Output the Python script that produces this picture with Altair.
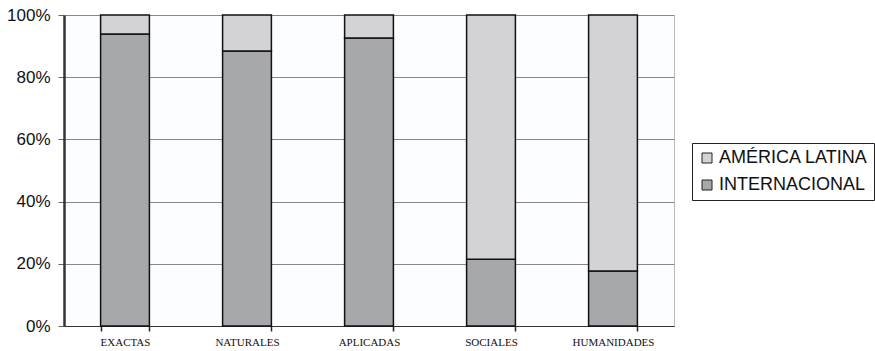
import altair as alt
import pandas as pd

# Share of publications by area (percent)
areas = ["EXACTAS", "NATURALES", "APLICADAS", "SOCIALES", "HUMANIDADES"]
internacional = [93.9, 88.4, 92.6, 21.5, 17.7]
america_latina = [6.1, 11.6, 7.4, 78.5, 82.3]

series = ["AMÉRICA LATINA", "INTERNACIONAL"]
colors = ["#D3D3D5", "#A7A8AC"]

rows = []
for a, i, l in zip(areas, internacional, america_latina):
    rows.append({"area": a, "serie": "INTERNACIONAL", "valor": i / 100, "orden": 0})
    rows.append({"area": a, "serie": "AMÉRICA LATINA", "valor": l / 100, "orden": 1})
df = pd.DataFrame(rows)

chart = (
    alt.Chart(df)
    .mark_bar(stroke="#111111", strokeWidth=1.5)
    .encode(
        x=alt.X(
            "area:N",
            sort=areas,
            title=None,
            scale=alt.Scale(paddingInner=0.6, paddingOuter=0.3),
            axis=alt.Axis(
                labelAngle=0,
                labelFont="Liberation Serif",
                labelFontSize=11,
                labelColor="#111111",
                labelPadding=5,
                tickBand="extent",
                tickColor="#222222",
                tickSize=5,
                tickWidth=1.5,
                domain=True,
                domainColor="#333333",
                domainWidth=1,
                grid=False,
            ),
        ),
        y=alt.Y(
            "valor:Q",
            stack="zero",
            title=None,
            scale=alt.Scale(domain=[0, 1], nice=False),
            axis=alt.Axis(
                format="%",
                values=[0, 0.2, 0.4, 0.6, 0.8, 1.0],
                labelFont="Liberation Sans",
                labelFontSize=17,
                labelColor="#111111",
                labelPadding=8,
                tickColor="#666666",
                tickSize=6,
                domainColor="#333333",
                domainWidth=2.5,
                gridColor="#888888",
                gridWidth=1,
            ),
        ),
        color=alt.Color(
            "serie:N",
            scale=alt.Scale(domain=series, range=colors),
            legend=alt.Legend(
                title=None,
                orient="none",
                legendX=628,
                legendY=128,
                strokeColor="#222222",
                fillColor="#FFFFFF",
                padding=6,
                symbolType="square",
                symbolSize=100,
                symbolStrokeColor="#222222",
                symbolStrokeWidth=1,
                symbolOpacity=1,
                labelFont="Liberation Sans",
                labelFontSize=18,
                labelColor="#111111",
                labelOffset=3,
                rowPadding=9,
                labelLimit=300,
            ),
        ),
        order=alt.Order("orden:Q"),
    )
    .properties(
        width=610,
        height=311,
        autosize=alt.AutoSizeParams(type="none"),
        padding={"left": 64, "top": 15, "right": 201, "bottom": 25},
        background="#FFFFFF",
    )
    .configure_view(fill="#FCFDFF", stroke="#BBBBBB", strokeWidth=1)
)

chart.save("out.html", embed_options={"renderer": "svg", "actions": False})
